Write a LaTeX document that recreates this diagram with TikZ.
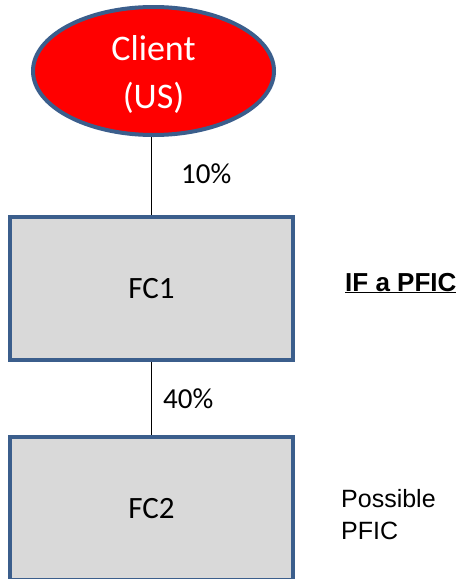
\documentclass[tikz,border=0pt]{standalone}
\usepackage{fontspec}
\setmainfont{Liberation Sans}
\newfontfamily\calibri{Carlito}
\usetikzlibrary{shapes.geometric}
\definecolor{edgeblue}{HTML}{3B5E8C}
\definecolor{boxgray}{HTML}{D9D9D9}
\begin{document}
\begin{tikzpicture}[x=1pt,y=-1pt,
  person/.style={ellipse, draw=edgeblue, line width=4pt, fill=red, text=white,
    minimum width=241pt, minimum height=128pt, inner sep=0pt, align=center,
    font=\calibri\fontsize{36}{48}\selectfont},
  entity/.style={draw=edgeblue, line width=4pt, fill=boxgray,
    minimum width=283pt, minimum height=143pt, inner sep=0pt,
    font=\calibri\fontsize{31}{37}\selectfont},
  link/.style={draw=black, line width=1.3pt},
  share/.style={anchor=base west, inner sep=0pt,
    font=\calibri\fontsize{29}{35}\selectfont},
  note/.style={anchor=base west, inner sep=0pt, align=left}]
\useasboundingbox (0,0) rectangle (460,579);

% ownership chain
\node[person] (client) at (153.5,71) {\rule{0pt}{32pt}Client\\(US)};
\node[entity] (fc1) at (151.5,288.5) {FC1};
\node[entity] (fc2) at (151.5,508.5) {FC2};

\draw[link] (fc1.north) -- (fc1.north |- client.south);
\draw[link] (fc1.south) -- (fc2.north);

% percentages held
\node[share] (p10) at (181,183) {10\%};
\node[share] (p40) at (163,408) {40\%};

% status notes
\node[note, font=\bfseries\fontsize{26}{30}\selectfont] (ifpfic) at (345,291) {\underline{IF a PFIC}};
\node[note, font=\fontsize{25}{32}\selectfont] (maybe) at (341,539) {Possible\\PFIC};
\end{tikzpicture}
\end{document}
